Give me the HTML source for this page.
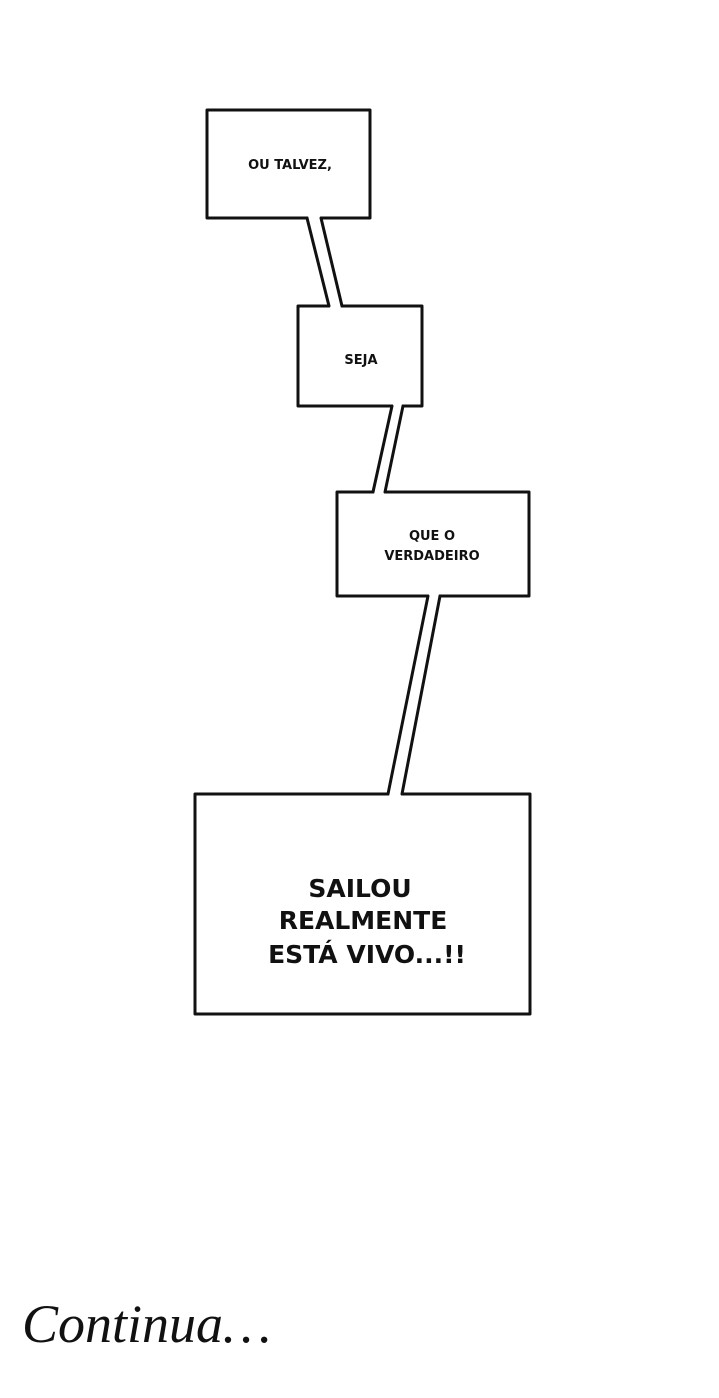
<!DOCTYPE html>
<html><head><meta charset="utf-8"><style>
html,body{margin:0;padding:0;background:#fff;}
body{width:719px;height:1398px;position:relative;overflow:hidden;}
svg{position:absolute;left:0;top:0;}
.t{font-family:"DejaVu Sans","Liberation Sans",sans-serif;font-weight:bold;fill:#111;text-anchor:middle;}
</style></head><body>
<svg width="719" height="1398" viewBox="0 0 719 1398">
<g fill="#fff" stroke="#111" stroke-width="3" stroke-linejoin="round">
<rect x="207" y="110" width="163" height="108"/>
<rect x="298" y="306" width="124" height="100"/>
<rect x="337" y="492" width="192" height="104"/>
<rect x="195" y="794" width="335" height="220"/>
</g>
<g fill="#fff" stroke="none">
<polygon points="308,216 320,216 341,308 330,308"/>
<polygon points="393,404 402,404 384,494 374,494"/>
<polygon points="429,594 439,594 401,796 389,796"/>
</g>
<g stroke="#111" stroke-width="3" fill="none" stroke-linecap="round">
<line x1="307" y1="218" x2="329" y2="306"/>
<line x1="321" y1="218" x2="342" y2="306"/>
<line x1="392" y1="406" x2="373" y2="492"/>
<line x1="403" y1="406" x2="385" y2="492"/>
<line x1="428" y1="596" x2="388" y2="794"/>
<line x1="440" y1="596" x2="402" y2="794"/>
</g>
<text class="t" x="290" y="169" font-size="13">OU TALVEZ,</text>
<text class="t" x="361" y="364" font-size="13">SEJA</text>
<text class="t" x="432" y="540" font-size="13">QUE O</text>
<text class="t" x="432" y="560" font-size="13">VERDADEIRO</text>
<text class="t" x="360" y="897" font-size="25">SAILOU</text>
<text class="t" x="363" y="929" font-size="25">REALMENTE</text>
<text class="t" x="367" y="963" font-size="25">ESTÁ VIVO...!!</text>
<text x="22" y="1342" font-family="Liberation Serif,serif" font-style="italic" font-size="54" fill="#111">Continua…</text>
</svg>
</body></html>
